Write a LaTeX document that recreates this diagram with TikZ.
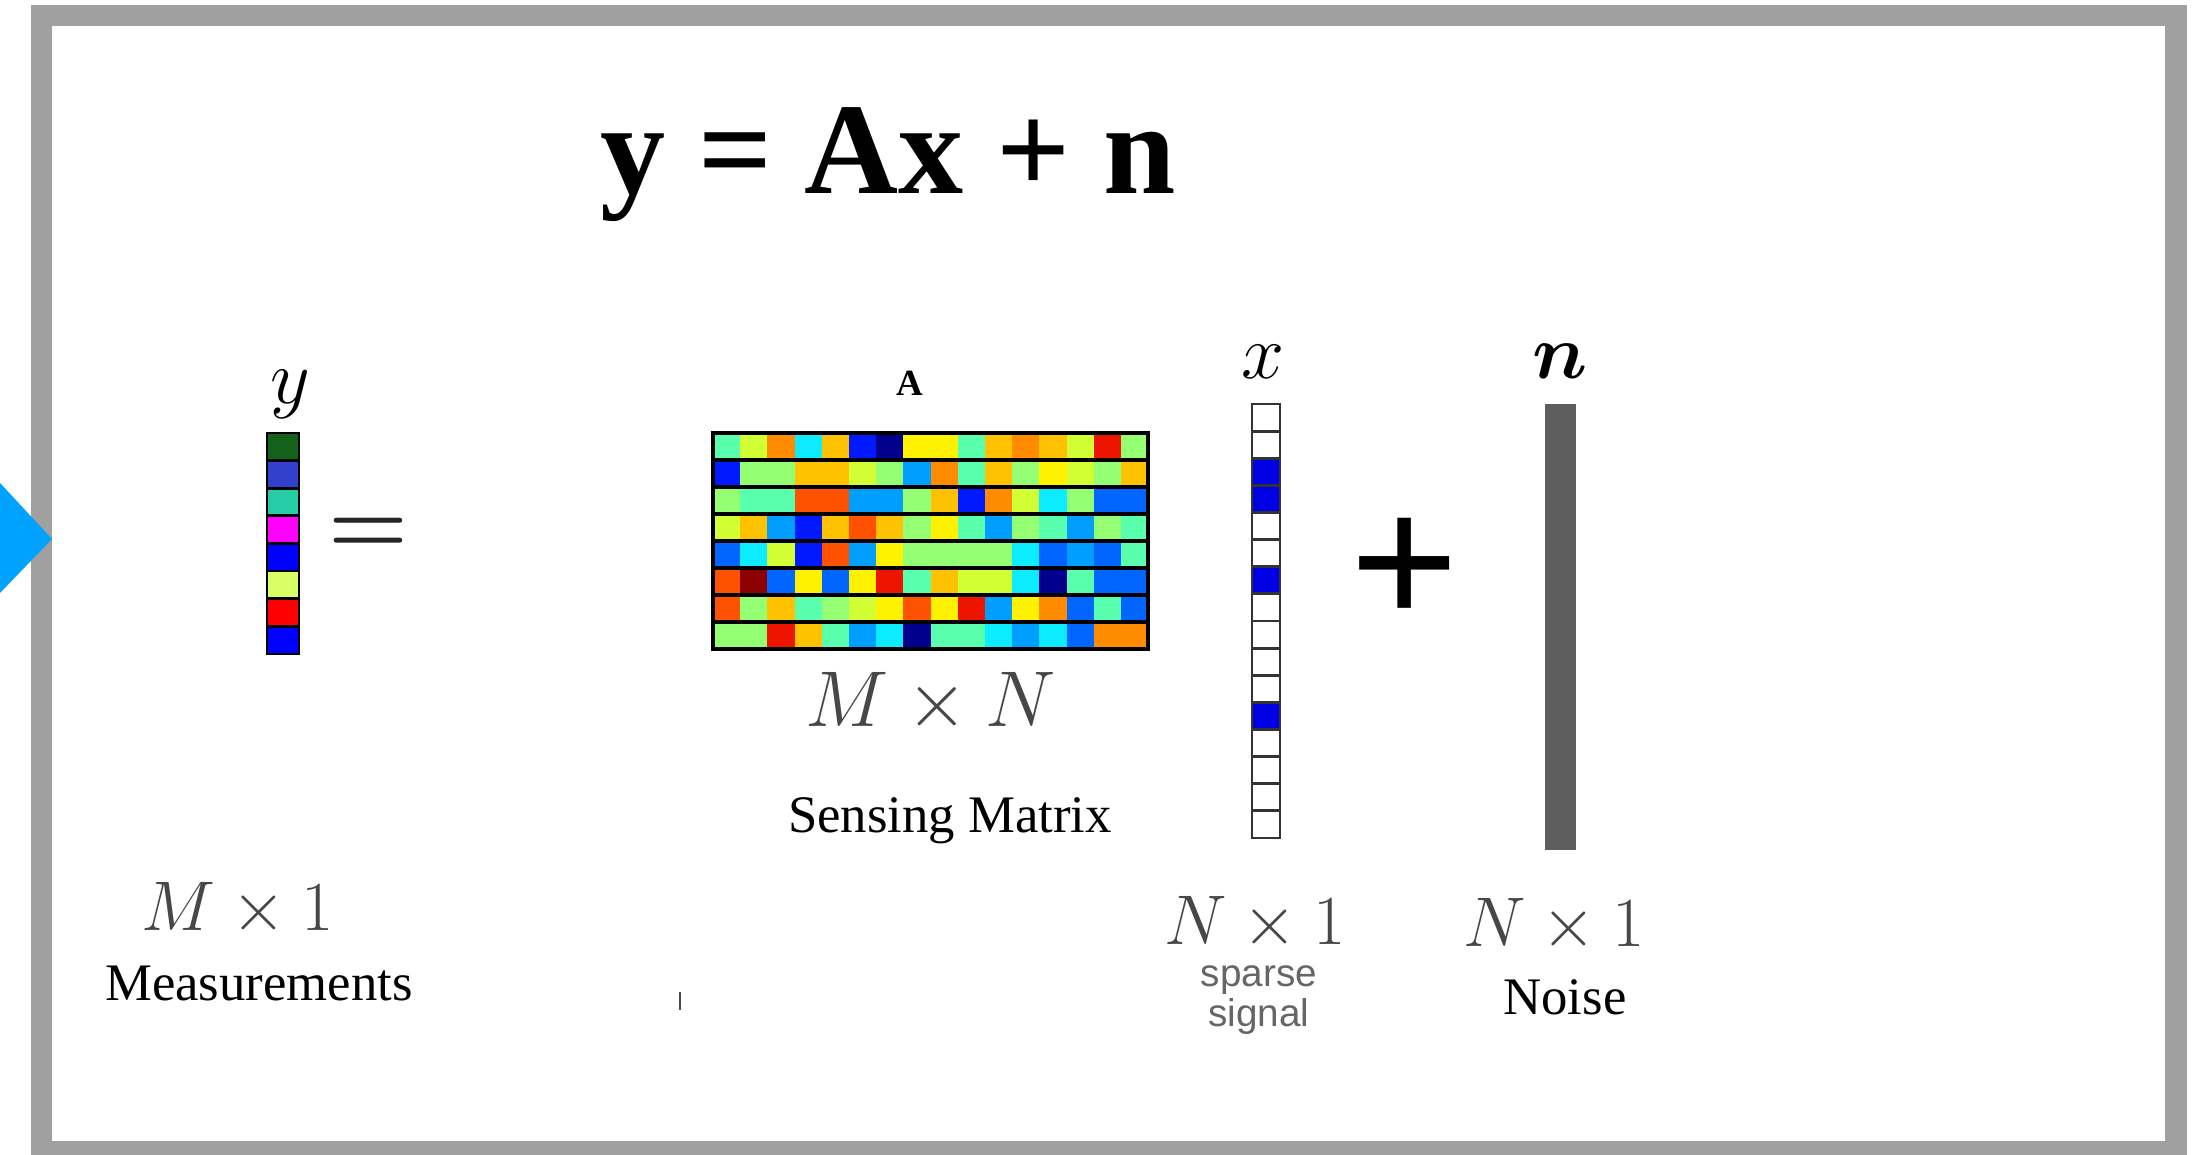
\documentclass[tikz,border=0pt]{standalone}
\usepackage{fix-cm}
\usepackage{fontspec}
\setmainfont{Liberation Serif}
\newfontfamily\labelsans{Liberation Sans}
\usepackage{bm}
\usetikzlibrary{positioning}

\definecolor{framegray}{RGB}{160,160,160}
\definecolor{arrowblue}{RGB}{0,162,255}
\definecolor{noisegray}{RGB}{94,94,94}
% jet-like colours for the sensing matrix
\definecolor{c0}{rgb}{0,0,0.55}
\definecolor{c1}{rgb}{0,0.1,1}
\definecolor{c2}{rgb}{0,0.4,1}
\definecolor{c3}{rgb}{0,0.62,1}
\definecolor{c4}{rgb}{0.05,0.92,1}
\definecolor{c5}{rgb}{0.35,1,0.68}
\definecolor{c6}{rgb}{0.58,1,0.45}
\definecolor{c7}{rgb}{0.82,1,0.2}
\definecolor{c8}{rgb}{1,0.95,0}
\definecolor{c9}{rgb}{1,0.76,0}
\definecolor{c10}{rgb}{1,0.55,0}
\definecolor{c11}{rgb}{1,0.32,0}
\definecolor{c12}{rgb}{0.93,0.08,0}
\definecolor{c13}{rgb}{0.55,0,0}
% measurement vector
\definecolor{y1}{rgb}{0.08,0.38,0.1}
\definecolor{y2}{rgb}{0.2,0.25,0.8}
\definecolor{y3}{rgb}{0.15,0.8,0.65}
\definecolor{y4}{rgb}{1,0,1}
\definecolor{y6}{rgb}{0.85,1,0.4}

\begin{document}
\begin{tikzpicture}[x=0.01cm,y=-0.01cm,
    dimlbl/.style={anchor=base,text=black!72,font=\fontsize{20}{24}\selectfont},
    capt/.style={anchor=base,font=\fontsize{15}{18}\selectfont},
    vlbl/.style={anchor=base,font=\fontsize{22}{26}\selectfont}]
  \useasboundingbox (0,0) rectangle (2203,1155);
  % frame and marker
  \fill[framegray] (31,5) rectangle (2187,1155);
  \fill[white] (52,26) rectangle (2165,1141);
  \fill[arrowblue] (0,483) -- (52,539) -- (0,593) -- cycle;

  \node (eqn) at (888,194) [anchor=base,font=\fontsize{37}{40}\selectfont\bfseries] {y = Ax + n};

  % y
  \foreach \col [count=\k from 0] in {y1,y2,y3,y4,blue,y6,red,blue}
    \fill[\col] (267,{433+27.6*\k}) rectangle ++(32,27.6);
  \foreach \k in {1,...,7} \draw[thick] (267,{433+27.6*\k}) -- (299,{433+27.6*\k});
  \draw[thick] (267,433) rectangle (299,654);
  \node[vlbl] (ylbl) at (290,403) {$y$};
  \node[anchor=base,text=black!85,font=\fontsize{26}{30}\selectfont] (eq) at (368,554) {$\bm{=}$};
  \node[dimlbl] (ydim) at (238,930) {$M\times 1$};
  \node[capt] (ycap) at (259,1000) {Measurements};

  % A
  \foreach \row [count=\r from 0] in {
      {5,7,10,4,9,1,0,8,8,5,9,10,9,7,12,6},
      {1,6,6,9,9,7,6,3,10,5,9,6,8,7,6,9},
      {6,5,5,11,11,3,3,6,9,1,10,7,4,6,2,2},
      {7,9,3,1,9,11,9,6,8,5,3,6,5,3,6,5},
      {2,4,7,1,11,3,8,6,6,6,6,4,2,3,2,5},
      {11,13,2,8,2,8,12,5,9,7,7,4,0,5,2,2},
      {11,6,9,5,6,7,8,11,8,12,3,8,10,2,5,2},
      {6,6,12,9,5,3,4,0,5,5,4,3,4,2,10,10}}
    \foreach \c [count=\k from 0] in \row
      \fill[c\c] ({713+27.2*\k},{433+27*\r}) rectangle ++(27.6,27.4);
  \foreach \r in {1,...,7} \draw[line width=0.9pt] (713,{433+27*\r}) -- (1148,{433+27*\r});
  \draw[line width=0.9pt] (713,433) rectangle (1148,649);
  \node[anchor=base,font=\fontsize{10.5}{12}\selectfont\bfseries] (albl) at (910,396) {A};
  \node[anchor=base,text=black!72,font=\fontsize{22.5}{26}\selectfont] (adim) at (931,726) {$M\times N$};
  \node[capt] (acap) at (950,832) {Sensing Matrix};
  \draw[black!70,line width=0.6pt] (680,992) -- (680,1010);

  % x
  \foreach \k in {2,3,6,11} \fill[blue!90!black] (1252,{404+27.125*\k}) rectangle ++(28,27.125);
  \foreach \k in {1,...,15} \draw[black!80,line width=0.8pt] (1252,{404+27.125*\k}) -- (1280,{404+27.125*\k});
  \draw[black!80,line width=0.8pt] (1252,404) rectangle (1280,838);
  \node[vlbl] (xlbl) at (1263,379) {$x$};
  \node[dimlbl] (xdim) at (1255,944) {$N\times 1$};
  \node[anchor=base,text=black!60,font=\labelsans\fontsize{11}{13}\selectfont] (xcap1) at (1259,986) {sparse};
  \node[anchor=base,text=black!60,font=\labelsans\fontsize{11}{13}\selectfont] (xcap2) at (1259,1026) {signal};

  \node[anchor=base,font=\fontsize{55}{60}\selectfont\bfseries] (pl) at (1405,627) {+};

  % n
  \fill[noisegray] (1545,404) rectangle (1576,850);
  \node[vlbl] (nlbl) at (1560,379) {$\bm{n}$};
  \node[dimlbl] (ndim) at (1554,946) {$N\times 1$};
  \node[capt] (ncap) at (1565,1014) {Noise};
\end{tikzpicture}
\end{document}
